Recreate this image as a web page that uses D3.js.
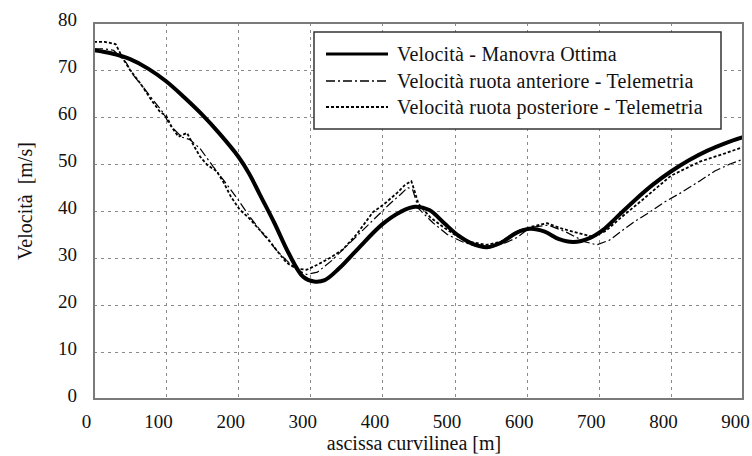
<!DOCTYPE html>
<html>
<head>
<meta charset="utf-8">
<script src="https://cdn.jsdelivr.net/npm/d3@7/dist/d3.min.js"></script>
<style>
  html, body { margin: 0; padding: 0; background: #fff; }
  svg { display: block; }
  text { font-family: "Liberation Serif", "Times New Roman", serif; fill: #111; }
</style>
</head>
<body>
<svg id="chart" width="752" height="456"></svg>
<script>
// Tick values
const xTicks = [0, 100, 200, 300, 400, 500, 600, 700, 800, 900];
const yTicks = [0, 10, 20, 30, 40, 50, 60, 70, 80];

// Optimal manoeuvre speed
const ottimaX = [0, 25, 50, 75, 100, 125, 150, 175, 200, 215, 230, 250, 270, 290, 305, 320, 340, 365, 400, 425, 445, 465, 485, 505, 525, 545, 565, 585, 605, 625, 645, 665, 688, 706, 725, 750, 775, 800, 825, 850, 875, 900];
const ottimaV = [74.2, 73.5, 72.3, 70.3, 67.6, 64.2, 60.5, 56.3, 51.6, 48, 43.5, 37.5, 31, 26, 25, 25.3, 27.8, 31.8, 37.2, 39.8, 40.9, 40.2, 37.5, 34.8, 33, 32.3, 33.3, 35.3, 36.2, 35.6, 34, 33.4, 34.3, 36, 38.7, 42.3, 45.6, 48.4, 50.8, 52.8, 54.4, 55.7];

// Front wheel speed, telemetry
const anterioreX = [0, 15, 27, 45, 54, 68, 82, 96, 105, 122, 133, 147, 165, 180, 198, 215, 235, 254, 267, 281, 295, 310, 330, 350, 370, 390, 410, 425, 435, 442, 450, 470, 490, 510, 530, 550, 570, 586, 605, 630, 655, 680, 697, 715, 734, 752, 771, 790, 813, 840, 861, 882, 900];
const anterioreV = [74.5, 74.5, 74.2, 71.5, 69, 66.4, 63.6, 60.9, 58.3, 55.7, 55.2, 53.3, 49.5, 46.5, 42.8, 39, 35, 31.5, 29.5, 27.5, 26.5, 27, 29.5, 32.5, 35.5, 38.5, 41.5, 43.5, 45, 44.5, 40.5, 37.5, 35, 33.5, 32.5, 32.2, 33.2, 34.3, 36.5, 37, 35.5, 33.5, 32.8, 33.8, 36, 38, 39.8, 41.8, 43.8, 46.4, 48.5, 50, 51];

// Rear wheel speed, telemetry
const posterioreX = [0, 15, 30, 40, 50, 65, 80, 92, 100, 108, 117, 129, 138, 147, 157, 170, 180, 190, 202, 215, 226, 240, 254, 267, 281, 295, 309, 327, 345, 364, 387, 401, 420, 431, 440, 444, 450, 466, 485, 505, 525, 545, 565, 585, 605, 628, 650, 672, 692, 710, 730, 760, 800, 840, 870, 900];
const posterioreV = [76, 76, 75.5, 72.5, 70, 67, 63.5, 61, 60.3, 57.8, 55.8, 56.6, 54, 51.6, 49.8, 48.5, 46, 43, 40.3, 38.5, 36.6, 34.3, 31.5, 29, 27.7, 27.5, 28.5, 30, 31.8, 35, 39.8, 41.3, 43.8, 45.5, 46.4, 44.5, 41.5, 38.7, 36.5, 34.5, 33.3, 32.8, 33.5, 35.5, 36.6, 37.4, 36.2, 35.3, 34.5, 35.8, 38.5, 42.3, 47.5, 50.5, 52, 53.6];

const legendLabels = [
  "Velocità - Manovra Ottima",
  "Velocità ruota anteriore - Telemetria",
  "Velocità ruota posteriore - Telemetria"
];

const svg = d3.select("#chart");
const plot = { left: 94, right: 743, top: 23, bottom: 399 };

const x = d3.scaleLinear().domain([0, 900]).range([plot.left, plot.right]);
const y = d3.scaleLinear().domain([0, 80]).range([plot.bottom, plot.top]);

svg.append("rect").attr("width", 752).attr("height", 456).attr("fill", "#fff");

// Grid
const grid = svg.append("g").attr("stroke", "#8a8a8a").attr("stroke-width", 1)
  .attr("stroke-dasharray", "3,4");
grid.selectAll("line.v").data(xTicks.slice(1, -1)).join("line")
  .attr("x1", d => Math.round(x(d)) + 0.5).attr("x2", d => Math.round(x(d)) + 0.5)
  .attr("y1", plot.top).attr("y2", plot.bottom);
grid.selectAll("line.h").data(yTicks.slice(1, -1)).join("line")
  .attr("y1", d => Math.round(y(d)) + 0.5).attr("y2", d => Math.round(y(d)) + 0.5)
  .attr("x1", plot.left).attr("x2", plot.right);

// Axes (labels only; frame drawn separately)
const xAxis = d3.axisBottom(x).tickValues(xTicks).tickSize(0).tickPadding(0);
const gx = svg.append("g").attr("transform", `translate(0,${plot.bottom})`).call(xAxis);
gx.select(".domain").remove();
gx.selectAll("text").attr("font-size", 19).attr("dy", null).attr("y", 29)
  .attr("x", -8).attr("fill", "#111")
  .style("font-family", "'Liberation Serif', serif");

const yAxis = d3.axisLeft(y).tickValues(yTicks).tickSize(0).tickPadding(0);
const gy = svg.append("g").attr("transform", `translate(${plot.left},0)`).call(yAxis);
gy.select(".domain").remove();
gy.selectAll("text").attr("font-size", 19).attr("dy", null).attr("y", 2)
  .attr("x", -17).attr("fill", "#111")
  .style("font-family", "'Liberation Serif', serif");

// Lines
svg.append("clipPath").attr("id", "clip").append("rect")
  .attr("x", plot.left).attr("y", plot.top)
  .attr("width", plot.right - plot.left).attr("height", plot.bottom - plot.top);

const series = [
  { xs: ottimaX, vs: ottimaV, width: 4, dash: null, smooth: true },
  { xs: anterioreX, vs: anterioreV, width: 1.2, dash: "9,3,2,3", smooth: false },
  { xs: posterioreX, vs: posterioreV, width: 1.8, dash: "3,2", smooth: false }
];

const lines = svg.append("g").attr("clip-path", "url(#clip)");
series.forEach(s => {
  const pts = s.xs.map((d, i) => [d, s.vs[i]]);
  const gen = d3.line().x(d => x(d[0])).y(d => y(d[1]))
    .curve(s.smooth ? d3.curveCatmullRom.alpha(0.5) : d3.curveLinear);
  lines.append("path").datum(pts)
    .attr("d", gen).attr("fill", "none").attr("stroke", "#000")
    .attr("stroke-width", s.width)
    .attr("stroke-dasharray", s.dash)
    .attr("stroke-linejoin", "round");
});

// Plot frame
svg.append("rect").attr("x", plot.left).attr("y", plot.top)
  .attr("width", plot.right - plot.left).attr("height", plot.bottom - plot.top)
  .attr("fill", "none").attr("stroke", "#7a7a7a").attr("stroke-width", 2);

// Axis titles
svg.append("text").attr("x", 414).attr("y", 450).attr("text-anchor", "middle")
  .attr("font-size", 20).text("ascissa curvilinea [m]");
svg.append("text").attr("transform", "translate(32,201) rotate(-90)")
  .attr("text-anchor", "middle").attr("font-size", 20)
  .style("white-space", "pre").text("Velocità  [m/s]");

// Legend
const lg = svg.append("g");
lg.append("rect").attr("x", 314).attr("y", 32).attr("width", 407).attr("height", 97)
  .attr("fill", "#fff").attr("stroke", "#333").attr("stroke-width", 1.5);
const rowsY = [54, 81, 107];
legendLabels.forEach((label, i) => {
  const s = series[i];
  lg.append("line").attr("x1", 326).attr("x2", 388)
    .attr("y1", rowsY[i]).attr("y2", rowsY[i])
    .attr("stroke", "#000").attr("stroke-width", i === 0 ? 3 : s.width + 0.4)
    .attr("stroke-dasharray", s.dash);
  lg.append("text").attr("x", 397).attr("y", rowsY[i] + 7)
    .attr("font-size", 20).attr("letter-spacing", 0.2).text(label);
});
</script>
</body>
</html>
